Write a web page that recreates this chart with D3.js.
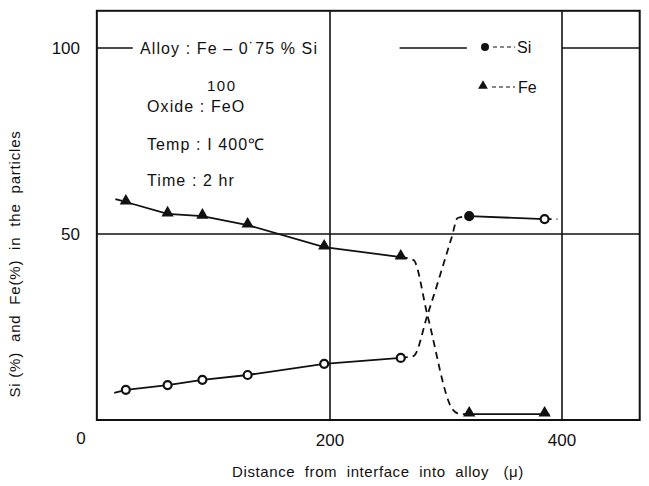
<!DOCTYPE html>
<html>
<head>
<meta charset="utf-8">
<script src="https://cdn.jsdelivr.net/npm/d3@7"></script>
<style>
  body { margin: 0; background: #fff; }
  svg { display: block; }
  text { font-family: "Liberation Sans", Arial, sans-serif; fill: #111; }
</style>
</head>
<body>
<svg width="649" height="486"></svg>
<script>
// values (distance in microns, content in %)
var distance   = [24, 60, 90, 129, 195, 261];
var siNear     = [8.1, 9.4, 10.8, 12.1, 15.1, 16.7];
var feNear     = [58.6, 55.4, 54.8, 52.4, 46.5, 43.8];
var distanceFar = [320, 385];
var siFar      = [54.8, 54.0];
var feFar      = [1.6, 1.6];

// dashed parts of the curves (lead in, transition, tail)
var siLead  = [[14, 7.3], [24, 8.1]];
var feLead  = [[15, 59.4], [24, 58.6]];
var siStep  = [[261, 16.7], [272, 17.2], [284, 28.2], [305, 49.2], [310, 54.3], [320, 54.8]];
var feStep  = [[261, 43.8], [272, 43.0], [284, 28.2], [306, 2.7], [312, 1.6], [319, 1.6]];
var siTail  = [[385, 54.0], [396, 54.0]];
var feTail  = [[383, 1.6], [392, 1.6]];

var xTicks = [200, 400];
var yTicks = [50, 100];
// the 100 % rule is broken by the notes and the key
var hundredRule = [[-1, 30], [260, 318], [400, 467]];

var notes = ["Alloy : Fe \u2013 0\u02D975 % Si", "Oxide : FeO", "Temp : I 400\u2103", "Time : 2 hr"];

var sp = "\u00A0";
var xTitle = ["Distance", "from", "interface", "into", "alloy", sp + "(\u03BC)"].join(sp + sp);
var yTitle = ["Si (%)", "and", "Fe(%)", "in", "the", "particles"].join(sp + sp);

var svg = d3.select("svg");

var x = d3.scaleLinear().domain([0, 400]).range([98, 562]);
var y = d3.scaleLinear().domain([0, 100]).range([420, 48]);

var xMin = -1, xMax = 467, yMin = 0, yMax = 110;

// grid
svg.append("g").selectAll("line")
    .data(xTicks)
    .enter().append("line")
    .attr("x1", function(d) { return x(d); })
    .attr("x2", function(d) { return x(d); })
    .attr("y1", y(yMax))
    .attr("y2", y(yMin))
    .attr("stroke", "#111")
    .attr("stroke-width", 1.6);

svg.append("line")
    .attr("x1", x(xMin)).attr("x2", x(xMax))
    .attr("y1", y(50)).attr("y2", y(50))
    .attr("stroke", "#111").attr("stroke-width", 1.6);

svg.append("g").selectAll("line")
    .data(hundredRule)
    .enter().append("line")
    .attr("x1", function(d) { return x(d[0]); })
    .attr("x2", function(d) { return x(d[1]); })
    .attr("y1", y(100)).attr("y2", y(100))
    .attr("stroke", "#111").attr("stroke-width", 1.6);

// frame
svg.append("rect")
    .attr("x", x(xMin))
    .attr("y", y(yMax))
    .attr("width", x(xMax) - x(xMin))
    .attr("height", y(yMin) - y(yMax))
    .attr("fill", "none")
    .attr("stroke", "#111")
    .attr("stroke-width", 2);

// tick labels
svg.append("g").selectAll("text")
    .data(xTicks)
    .enter().append("text")
    .attr("x", function(d) { return x(d); })
    .attr("y", 446)
    .attr("text-anchor", "middle")
    .attr("font-size", 17)
    .text(function(d) { return d; });

svg.append("g").selectAll("text")
    .data(yTicks)
    .enter().append("text")
    .attr("x", 80)
    .attr("y", function(d) { return y(d) + 6; })
    .attr("text-anchor", "end")
    .attr("font-size", 17)
    .text(function(d) { return d; });

svg.append("text")
    .attr("x", 81).attr("y", 444)
    .attr("text-anchor", "middle")
    .attr("font-size", 17)
    .text("0");

// axis titles
svg.append("text")
    .attr("x", 378).attr("y", 477)
    .attr("text-anchor", "middle")
    .attr("font-size", 15)
    .attr("letter-spacing", 0.6)
    .text(xTitle);

svg.append("text")
    .attr("transform", "translate(20,264) rotate(-90)")
    .attr("text-anchor", "middle")
    .attr("font-size", 15)
    .attr("letter-spacing", 0.8)
    .text(yTitle);

// lines
var line = d3.line()
    .x(function(d) { return x(d[0]); })
    .y(function(d) { return y(d[1]); });
var curve = d3.line()
    .x(function(d) { return x(d[0]); })
    .y(function(d) { return y(d[1]); })
    .curve(d3.curveMonotoneX);

function pairs(xs, ys) {
  return xs.map(function(v, i) { return [v, ys[i]]; });
}

var solid = [pairs(distance, siNear), pairs(distance, feNear), pairs(distanceFar, siFar), pairs(distanceFar, feFar)];
svg.append("g").selectAll("path")
    .data(solid)
    .enter().append("path")
    .attr("d", line)
    .attr("fill", "none")
    .attr("stroke", "#111")
    .attr("stroke-width", 1.8);

var dashed = [siLead, feLead, siStep, feStep, siTail, feTail];
svg.append("g").selectAll("path")
    .data(dashed)
    .enter().append("path")
    .attr("d", curve)
    .attr("fill", "none")
    .attr("stroke", "#111")
    .attr("stroke-width", 1.8)
    .attr("stroke-dasharray", "7,5");

// markers
var tri = d3.symbol().type(d3.symbolTriangle).size(65);

svg.append("g").selectAll("circle")
    .data(pairs(distance, siNear).concat(pairs(distanceFar, siFar)))
    .enter().append("circle")
    .attr("cx", function(d) { return x(d[0]); })
    .attr("cy", function(d) { return y(d[1]); })
    .attr("r", 4)
    .attr("fill", function(d, i) { return i === distance.length ? "#111" : "#fff"; })
    .attr("stroke", "#111")
    .attr("stroke-width", 2.2);

svg.append("g").selectAll("path")
    .data(pairs(distance, feNear).concat(pairs(distanceFar, feFar)))
    .enter().append("path")
    .attr("d", tri)
    .attr("transform", function(d) { return "translate(" + x(d[0]) + "," + (y(d[1]) - 1) + ")"; })
    .attr("fill", "#111");

// notes
var noteY = [54, 112, 150, 186];
svg.append("g").selectAll("text")
    .data(notes)
    .enter().append("text")
    .attr("x", function(d, i) { return i === 0 ? 140 : 147; })
    .attr("y", function(d, i) { return noteY[i]; })
    .attr("font-size", 16)
    .attr("letter-spacing", 1.1)
    .text(function(d) { return d; });

svg.append("text")
    .attr("x", 207).attr("y", 91)
    .attr("font-size", 15)
    .attr("letter-spacing", 1.5)
    .text("100");

// key
var key = svg.append("g");
key.append("circle").attr("cx", 485).attr("cy", 47).attr("r", 4).attr("fill", "#111");
key.append("line").attr("x1", 493).attr("x2", 515).attr("y1", 47).attr("y2", 47)
    .attr("stroke", "#111").attr("stroke-width", 1.2).attr("stroke-dasharray", "4,3");
key.append("text").attr("x", 517).attr("y", 53).attr("font-size", 16).text("Si");
key.append("path").attr("d", tri).attr("transform", "translate(483,86) scale(0.8)").attr("fill", "#111");
key.append("line").attr("x1", 492).attr("x2", 515).attr("y1", 87).attr("y2", 87)
    .attr("stroke", "#111").attr("stroke-width", 1.2).attr("stroke-dasharray", "4,3");
key.append("text").attr("x", 518).attr("y", 93).attr("font-size", 16).text("Fe");
</script>
</body>
</html>
